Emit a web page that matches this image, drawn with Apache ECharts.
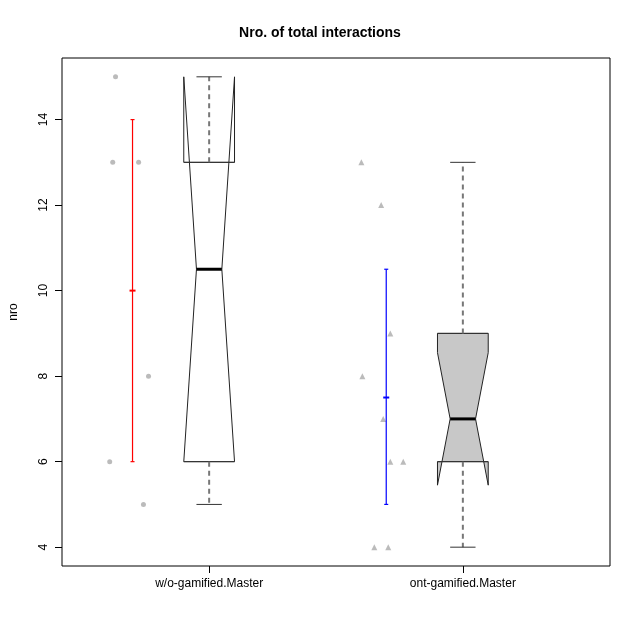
<!DOCTYPE html>
<html>
<head>
<meta charset="utf-8">
<script src="https://cdn.jsdelivr.net/npm/echarts@6/dist/echarts.min.js"></script>
<style>html,body{margin:0;padding:0;background:#fff}#main{width:640px;height:640px}</style>
</head>
<body>
<div id="main"></div>
<script>
var groups = ['w/o-gamified.Master', 'ont-gamified.Master'];
// [lowWhisker, Q1, median, Q3, highWhisker, notchLow, notchHigh]
var boxStats = [
  [5, 6, 10.5, 13, 15, 6, 15],
  [4, 6, 7, 9, 13, 5.45, 8.55]
];
var boxFill = ['#ffffff', '#c8c8c8'];
// raw points: [group, jitter, value]
var pointsA = [[1, -0.392, 6], [1, -0.369, 15], [1, -0.38, 13], [1, -0.278, 13], [1, -0.239, 8], [1, -0.259, 5]];
var pointsB = [[2, -0.4, 13], [2, -0.322, 12], [2, -0.286, 9], [2, -0.396, 8], [2, -0.314, 7],
  [2, -0.286, 6], [2, -0.235, 6], [2, -0.349, 4], [2, -0.294, 4]];
// mean +- sd: [mean, low, high]
var meanBars = [[10, 6, 14], [7.5, 5, 10.5]];
var meanColors = ['#ff0000', '#0000ff'];
var yTicks = [4, 6, 8, 10, 12, 14];

var chart = echarts.init(document.getElementById('main'));

function renderBox(params, api) {
  var i = params.dataIndex;
  var s = boxStats[i];
  var c = i + 1, hw = 0.1, nw = 0.05, cap = 0.05;
  function p(x, y) { return api.coord([x, y]); }
  var poly = [
    p(c - hw, s[3]), p(c - hw, s[6]), p(c - nw, s[2]), p(c - hw, s[5]), p(c - hw, s[1]),
    p(c + hw, s[1]), p(c + hw, s[5]), p(c + nw, s[2]), p(c + hw, s[6]), p(c + hw, s[3])
  ];
  var dash = { stroke: '#777', lineWidth: 2, lineDash: [5, 4] };
  var solid = { stroke: '#333', lineWidth: 1 };
  var children = [
    { type: 'polygon', shape: { points: poly }, style: { fill: boxFill[i], stroke: '#222', lineWidth: 1 } },
    { type: 'line', shape: { x1: p(c - hw, s[3])[0], y1: p(c, s[3])[1], x2: p(c + hw, s[3])[0], y2: p(c, s[3])[1] }, style: solid },
    { type: 'line', shape: { x1: p(c - hw, s[1])[0], y1: p(c, s[1])[1], x2: p(c + hw, s[1])[0], y2: p(c, s[1])[1] }, style: solid },
    { type: 'line', shape: { x1: p(c - nw, s[2])[0], y1: p(c, s[2])[1], x2: p(c + nw, s[2])[0], y2: p(c, s[2])[1] }, style: { stroke: '#000', lineWidth: 3 } },
    { type: 'line', shape: { x1: p(c, 0)[0], y1: p(c, s[3])[1], x2: p(c, 0)[0], y2: p(c, s[4])[1] }, style: dash },
    { type: 'line', shape: { x1: p(c, 0)[0], y1: p(c, s[1])[1], x2: p(c, 0)[0], y2: p(c, s[0])[1] }, style: dash },
    { type: 'line', shape: { x1: p(c - cap, 0)[0], y1: p(c, s[4])[1], x2: p(c + cap, 0)[0], y2: p(c, s[4])[1] }, style: solid },
    { type: 'line', shape: { x1: p(c - cap, 0)[0], y1: p(c, s[0])[1], x2: p(c + cap, 0)[0], y2: p(c, s[0])[1] }, style: solid }
  ];
  return { type: 'group', children: children };
}

function renderMean(params, api) {
  var i = params.dataIndex;
  var m = meanBars[i];
  var x = api.coord([i + 1 - 0.302, 0])[0];
  var col = meanColors[i];
  var st = { stroke: col, lineWidth: 1.2 };
  function y(v) { return api.coord([0, v])[1]; }
  return { type: 'group', children: [
    { type: 'line', shape: { x1: x, y1: y(m[1]), x2: x, y2: y(m[2]) }, style: st },
    { type: 'line', shape: { x1: x - 2, y1: y(m[1]), x2: x + 2, y2: y(m[1]) }, style: st },
    { type: 'line', shape: { x1: x - 2, y1: y(m[2]), x2: x + 2, y2: y(m[2]) }, style: st },
    { type: 'line', shape: { x1: x - 3, y1: y(m[0]), x2: x + 3, y2: y(m[0]) }, style: { stroke: col, lineWidth: 2 } }
  ] };
}

chart.setOption({
  animation: false,
  title: {
    text: 'Nro. of total interactions', left: 'center', top: 21,
    textStyle: { fontFamily: 'Liberation Sans', fontSize: 14, fontWeight: 'bold', color: '#000' }
  },
  grid: { left: 59, right: 30, top: 58, bottom: 74, show: true, borderColor: '#000', borderWidth: 1, backgroundColor: 'transparent' },
  xAxis: {
    type: 'value', min: 0.42, max: 2.58,
    axisLine: { show: false }, splitLine: { show: false },
    axisTick: { show: true, customValues: [1, 2], length: 7, lineStyle: { color: '#000' } },
    axisLabel: { customValues: [1, 2], margin: 12, color: '#000', fontFamily: 'Liberation Sans', fontSize: 12,
      formatter: function (v) { return groups[Math.round(v) - 1] || ''; } }
  },
  yAxis: {
    type: 'value', min: 3.56, max: 15.44,
    name: 'nro', nameLocation: 'middle', nameGap: 42, nameRotate: 90,
    nameTextStyle: { color: '#000', fontFamily: 'Liberation Sans', fontSize: 12 },
    axisLine: { show: false }, splitLine: { show: false },
    axisTick: { show: true, customValues: yTicks, length: 7, lineStyle: { color: '#000' } },
    axisLabel: { customValues: yTicks, rotate: 90, margin: 12, color: '#000', fontFamily: 'Liberation Sans', fontSize: 12 }
  },
  series: [
    { type: 'custom', renderItem: renderBox, data: boxStats.map(function (s, i) { return [i + 1, s[2]]; }), z: 2 },
    { type: 'custom', renderItem: renderMean, data: meanBars.map(function (m, i) { return [i + 1, m[0]]; }), z: 3 },
    { type: 'scatter', symbol: 'circle', symbolSize: 5, itemStyle: { color: '#aaaaaa' },
      data: pointsA.map(function (d) { return [d[0] + d[1], d[2]]; }) },
    { type: 'scatter', symbol: 'triangle', symbolSize: 6, itemStyle: { color: '#aaaaaa' },
      data: pointsB.map(function (d) { return [d[0] + d[1], d[2]]; }) }
  ]
});
</script>
</body>
</html>
